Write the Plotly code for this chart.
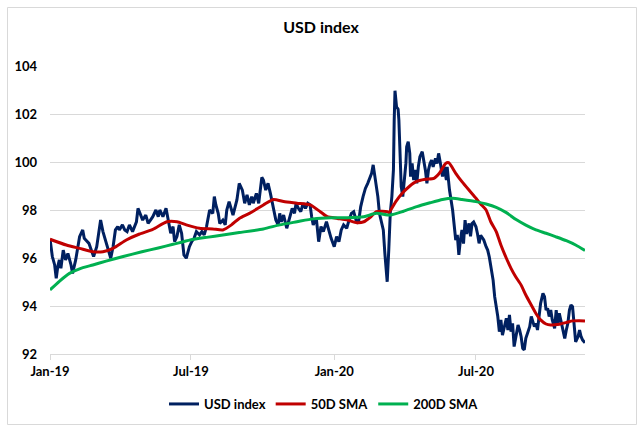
import plotly.graph_objects as go

# ---------------- data ----------------
usd_dates = [
    "2019-01-01","2019-01-04","2019-01-07","2019-01-09","2019-01-11","2019-01-13","2019-01-15","2019-01-18",
    "2019-01-21","2019-01-24","2019-01-28","2019-01-30","2019-02-03","2019-02-05","2019-02-08","2019-02-12",
    "2019-02-14","2019-02-16","2019-02-20","2019-02-23","2019-02-26","2019-03-02","2019-03-05","2019-03-07",
    "2019-03-10","2019-03-13","2019-03-16","2019-03-20","2019-03-23","2019-03-26","2019-03-29","2019-03-31",
    "2019-04-04","2019-04-07","2019-04-10","2019-04-13","2019-04-17","2019-04-22","2019-04-24","2019-04-27",
    "2019-04-30","2019-05-04","2019-05-07","2019-05-10","2019-05-13","2019-05-17","2019-05-20","2019-05-22",
    "2019-05-26","2019-05-30","2019-06-02","2019-06-05","2019-06-08","2019-06-10","2019-06-13","2019-06-16",
    "2019-06-19","2019-06-22","2019-06-25","2019-06-29","2019-07-02","2019-07-05","2019-07-08","2019-07-12",
    "2019-07-15","2019-07-18","2019-07-21","2019-07-25","2019-07-29","2019-07-31","2019-08-02","2019-08-05",
    "2019-08-07","2019-08-11","2019-08-14","2019-08-16","2019-08-19","2019-08-22","2019-08-24","2019-08-29",
    "2019-09-01","2019-09-05","2019-09-08","2019-09-11","2019-09-14","2019-09-17","2019-09-19","2019-09-23",
    "2019-09-26","2019-09-30","2019-10-02","2019-10-05","2019-10-08","2019-10-11","2019-10-15","2019-10-18",
    "2019-10-21","2019-10-23","2019-10-25","2019-10-28","2019-11-01","2019-11-05","2019-11-08","2019-11-11",
    "2019-11-13","2019-11-16","2019-11-19","2019-11-22","2019-11-25","2019-11-28","2019-12-01","2019-12-03",
    "2019-12-05","2019-12-09","2019-12-12","2019-12-15","2019-12-18","2019-12-22","2019-12-25","2019-12-28",
    "2020-01-01","2020-01-04","2020-01-07","2020-01-10","2020-01-13","2020-01-17","2020-01-20","2020-01-23",
    "2020-01-26","2020-01-29","2020-02-01","2020-02-04","2020-02-07","2020-02-10","2020-02-13","2020-02-15",
    "2020-02-18","2020-02-20","2020-02-22","2020-02-24","2020-02-26","2020-02-28","2020-03-02","2020-03-04",
    "2020-03-06","2020-03-09","2020-03-11","2020-03-13","2020-03-15","2020-03-17","2020-03-18","2020-03-19",
    "2020-03-21","2020-03-23","2020-03-24","2020-03-26","2020-03-27","2020-03-29","2020-03-31","2020-04-02",
    "2020-04-03","2020-04-05","2020-04-07","2020-04-08","2020-04-10","2020-04-12","2020-04-14","2020-04-16",
    "2020-04-18","2020-04-20","2020-04-23","2020-04-25","2020-04-27","2020-04-29","2020-05-01","2020-05-03",
    "2020-05-05","2020-05-07","2020-05-10","2020-05-12","2020-05-14","2020-05-16","2020-05-18","2020-05-19",
    "2020-05-21","2020-05-24","2020-05-25","2020-05-28","2020-06-01","2020-06-03","2020-06-05","2020-06-07",
    "2020-06-09","2020-06-11","2020-06-13","2020-06-15","2020-06-17","2020-06-19","2020-06-22","2020-06-24",
    "2020-06-26","2020-06-28","2020-07-01","2020-07-03","2020-07-05","2020-07-07","2020-07-11","2020-07-14",
    "2020-07-16","2020-07-18","2020-07-20","2020-07-23","2020-07-25","2020-07-27","2020-07-29","2020-07-31",
    "2020-08-02","2020-08-04","2020-08-07","2020-08-09","2020-08-11","2020-08-13","2020-08-15","2020-08-17",
    "2020-08-19","2020-08-21","2020-08-24","2020-08-26","2020-08-28","2020-08-30","2020-09-01","2020-09-03",
    "2020-09-05","2020-09-08","2020-09-10","2020-09-12","2020-09-14","2020-09-16","2020-09-18","2020-09-20",
    "2020-09-22","2020-09-25","2020-09-27","2020-09-29","2020-10-01","2020-10-03","2020-10-05","2020-10-07",
    "2020-10-10","2020-10-12","2020-10-14","2020-10-16","2020-10-18","2020-10-20","2020-10-23","2020-10-25",
    "2020-10-27","2020-10-29","2020-10-31","2020-11-02","2020-11-04","2020-11-06","2020-11-09","2020-11-11",
    "2020-11-13","2020-11-15","2020-11-18",
]
usd_values = [
    96.80, 96.06, 95.71, 95.15, 95.64, 95.92, 95.57, 96.33,
    95.92, 96.19, 95.71, 95.36, 95.92, 96.33, 96.89, 97.17,
    96.82, 96.75, 96.61, 96.33, 96.06, 96.47, 97.03, 97.58,
    97.10, 96.75, 96.47, 95.99, 96.47, 97.17, 97.31, 97.17,
    97.38, 97.17, 97.10, 97.38, 97.10, 97.51, 98.07, 97.86,
    97.58, 97.79, 97.44, 97.58, 97.72, 98.00, 97.72, 98.00,
    97.72, 98.07, 97.51, 97.03, 97.31, 96.68, 96.89, 97.38,
    97.03, 96.13, 95.99, 96.47, 96.68, 96.82, 97.10, 96.96,
    97.10, 96.96, 97.31, 98.00, 97.86, 98.56, 98.21, 97.86,
    97.44, 97.58, 97.38, 98.00, 98.35, 98.00, 97.79, 98.42,
    99.11, 98.83, 98.28, 98.63, 98.21, 98.56, 98.28, 98.69,
    98.28, 99.36, 99.25, 98.83, 99.11, 98.69, 98.07, 97.58,
    97.38, 97.86, 97.51, 97.79, 97.24, 97.72, 98.07, 97.86,
    98.28, 98.07, 97.93, 98.28, 98.07, 98.28, 98.21, 97.72,
    97.38, 97.65, 96.68, 97.31, 97.10, 97.51, 97.10, 96.82,
    96.47, 96.89, 96.68, 97.17, 97.38, 97.24, 97.58, 97.86,
    97.93, 97.58, 97.44, 98.14, 98.56, 98.90, 99.11, 99.32,
    99.53, 99.88, 99.39, 99.11, 98.56, 97.86, 97.51, 97.17,
    96.19, 95.01, 96.33, 97.90, 98.56, 99.67, 101.75, 102.97,
    102.30, 102.20, 101.75, 100.22, 98.97, 98.56, 99.25, 99.94,
    100.64, 100.85, 100.36, 99.39, 99.94, 99.25, 99.67, 99.11,
    99.80, 100.22, 100.43, 100.08, 99.67, 99.11, 99.67, 99.94,
    100.08, 99.80, 100.15, 99.94, 100.36, 100.01, 99.67, 99.39,
    99.80, 99.25, 99.80, 98.83, 98.00, 97.44, 96.75, 96.96,
    96.13, 96.75, 97.17, 96.60, 97.58, 97.00, 97.44, 96.90,
    97.44, 97.50, 97.30, 97.00, 96.61, 96.95, 96.75, 96.47,
    96.33, 96.06, 95.71, 95.08, 94.39, 93.97, 93.56, 92.93,
    93.42, 92.79, 93.28, 93.49, 93.00, 93.63, 92.93, 93.28,
    92.31, 92.72, 93.21, 93.00, 92.72, 92.24, 92.17, 92.65,
    92.86, 93.14, 93.56, 93.35, 93.14, 93.28, 93.00, 93.56,
    94.11, 94.53, 94.39, 93.83, 93.90, 93.56, 93.83, 93.42,
    93.07, 93.83, 93.21, 93.70, 93.42, 93.14, 92.65, 93.00,
    93.28, 93.83, 94.04, 93.97, 93.28, 92.51, 92.72, 93.00,
    92.72, 92.58, 92.47,
]

sma50_dates = [
    "2019-01-01","2019-01-22","2019-02-08","2019-02-25","2019-03-10","2019-03-23","2019-04-09","2019-04-26",
    "2019-05-13","2019-05-31","2019-06-13","2019-06-25","2019-07-12","2019-07-29","2019-08-11","2019-08-22",
    "2019-09-01","2019-09-14","2019-10-02","2019-10-15","2019-10-28","2019-11-14","2019-12-01","2019-12-14",
    "2019-12-23","2020-01-05","2020-01-18","2020-01-30","2020-02-08","2020-02-17","2020-02-24","2020-03-09",
    "2020-03-11","2020-03-20","2020-03-28","2020-04-06","2020-04-15","2020-04-27","2020-05-08","2020-05-15",
    "2020-05-23","2020-05-27","2020-06-05","2020-06-13","2020-06-22","2020-07-01","2020-07-07","2020-07-14",
    "2020-07-20","2020-07-27","2020-08-02","2020-08-09","2020-08-15","2020-08-21","2020-08-28","2020-09-03",
    "2020-09-10","2020-09-16","2020-09-22","2020-09-29","2020-10-05","2020-10-16","2020-10-25","2020-11-02",
    "2020-11-11","2020-11-18",
]
sma50_values = [
    96.78, 96.54, 96.40, 96.26, 96.26, 96.40, 96.75, 97.00,
    97.19, 97.51, 97.51, 97.38, 97.24, 97.21, 97.17, 97.38,
    97.65, 97.86, 98.21, 98.44, 98.35, 98.28, 98.21, 97.93,
    97.72, 97.65, 97.58, 97.47, 97.51, 97.72, 97.93, 97.93,
    97.89, 98.35, 98.69, 98.97, 99.18, 99.28, 99.32, 99.53,
    99.94, 99.97, 99.53, 99.18, 98.83, 98.49, 98.25, 98.00,
    97.51, 97.10, 96.54, 95.99, 95.57, 95.22, 94.87, 94.46,
    94.04, 93.69, 93.42, 93.25, 93.21, 93.24, 93.31, 93.38,
    93.39, 93.38,
]

sma200_dates = [
    "2019-01-01","2019-01-13","2019-01-26","2019-02-08","2019-02-25","2019-03-14","2019-04-05","2019-04-29",
    "2019-05-20","2019-06-08","2019-06-30","2019-07-21","2019-08-11","2019-09-01","2019-10-02","2019-10-23",
    "2019-11-14","2019-12-05","2019-12-28","2020-01-18","2020-02-08","2020-02-24","2020-03-13","2020-03-30",
    "2020-04-16","2020-05-03","2020-05-19","2020-06-01","2020-06-13","2020-07-01","2020-07-14","2020-07-27",
    "2020-08-09","2020-08-21","2020-09-03","2020-09-16","2020-09-29","2020-10-11","2020-10-25","2020-11-06",
    "2020-11-18",
]
sma200_values = [
    94.67, 95.03, 95.36, 95.55, 95.71, 95.87, 96.06, 96.26,
    96.42, 96.57, 96.75, 96.86, 96.96, 97.06, 97.21, 97.38,
    97.51, 97.63, 97.68, 97.68, 97.72, 97.86, 97.79, 97.95,
    98.14, 98.30, 98.44, 98.49, 98.44, 98.35, 98.25, 98.11,
    97.89, 97.61, 97.37, 97.17, 97.03, 96.89, 96.72, 96.54,
    96.31,
]

series_names = ["USD index", "50D SMA", "200D SMA"]
x_tick_vals = ["2019-01-01", "2019-07-01", "2020-01-01", "2020-07-01"]
x_tick_text = ["Jan-19", "Jul-19", "Jan-20", "Jul-20"]
y_tick_vals = [92, 94, 96, 98, 100, 102, 104]
x_range = ["2019-01-01", "2020-11-18"]
y_range = [92, 104]

# ---------------- styling ----------------
W, H = 642, 437
ML, MR, MT, MB = 50, 57, 66, 83
FONT = "Lato"
NAVY, RED, GREEN = "#002060", "#C00000", "#00B050"
GRID = "#D9D9D9"

fig = go.Figure()
fig.add_trace(go.Scatter(x=usd_dates, y=usd_values, name=series_names[0], mode="lines",
                         line=dict(color=NAVY, width=3)))
fig.add_trace(go.Scatter(x=sma50_dates, y=sma50_values, name=series_names[1], mode="lines",
                         line=dict(color=RED, width=3, shape="spline", smoothing=0.6)))
fig.add_trace(go.Scatter(x=sma200_dates, y=sma200_values, name=series_names[2], mode="lines",
                         line=dict(color=GREEN, width=3, shape="spline", smoothing=0.6)))

pw, ph = W - ML - MR, H - MT - MB
def px_x(p):
    return (p - ML) / pw
def px_y(p):
    return (H - MB - p) / ph

fig.update_layout(
    width=W, height=H,
    margin=dict(l=ML, r=MR, t=MT, b=MB),
    paper_bgcolor="white", plot_bgcolor="white",
    font=dict(family=FONT, size=13, color="#000000"),
    title=dict(text="<b>USD index</b>", x=0.5, xref="container", y=1 - 27 / H, yref="container",
               xanchor="center", yanchor="middle", font=dict(family=FONT, size=16, color="#000000")),
    showlegend=True,
    legend=dict(orientation="h", x=px_x(324), xanchor="center", y=px_y(404), yanchor="middle",
                font=dict(family=FONT, size=13, color="#000000", weight="bold"),
                itemwidth=30, tracegroupgap=0, bgcolor="rgba(0,0,0,0)"),
    xaxis=dict(type="date", range=x_range, tickmode="array", tickvals=x_tick_vals, ticktext=x_tick_text,
               showgrid=False, showline=True, linecolor=GRID, linewidth=1,
               ticks="outside", ticklen=5, tickcolor=GRID,
               tickfont=dict(family=FONT, size=13, color="#000000", weight="bold"),
               zeroline=False, fixedrange=True),
    yaxis=dict(range=y_range, tickmode="array", tickvals=y_tick_vals,
               showgrid=True, gridcolor=GRID, gridwidth=1, zeroline=False, showline=False,
               ticklabelstandoff=12,
               tickfont=dict(family=FONT, size=13, color="#000000", weight="bold"), fixedrange=True),
    shapes=[dict(type="rect", xref="paper", yref="paper",
                 x0=px_x(7.5), x1=px_x(636.5), y0=px_y(424.5), y1=px_y(7.5),
                 line=dict(color=GRID, width=1), fillcolor="rgba(0,0,0,0)", layer="below")],
)

fig.write_html("out.html")
